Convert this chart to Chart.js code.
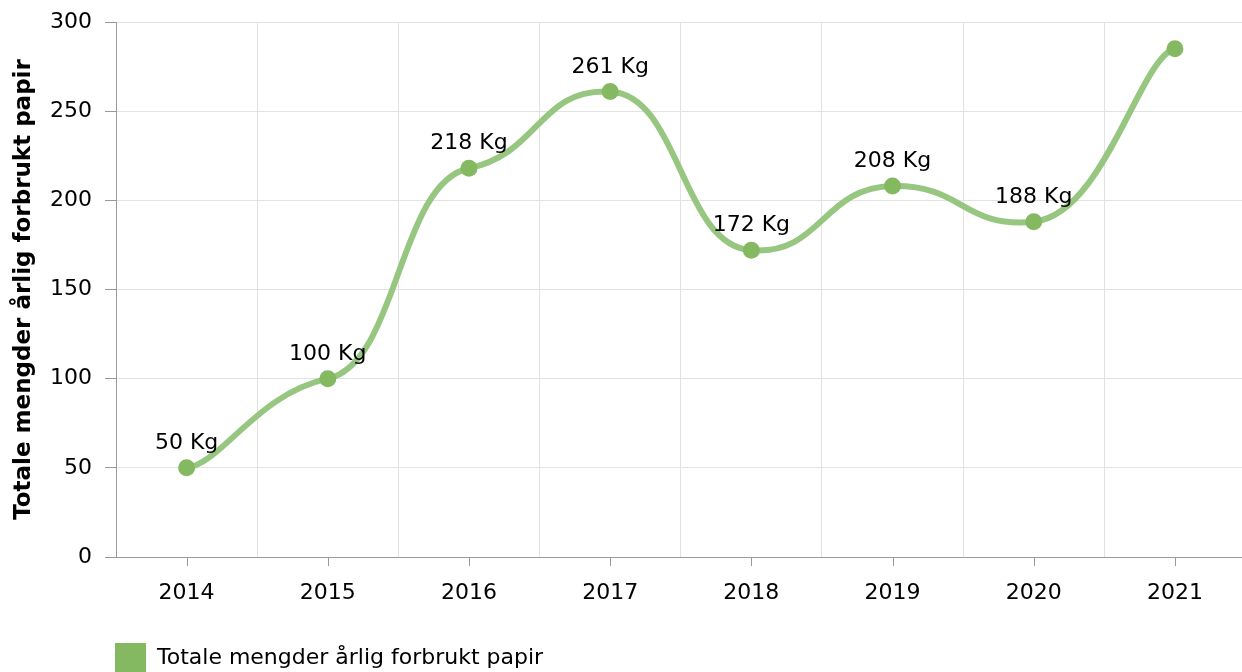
<!DOCTYPE html>
<html>
<head>
<meta charset="utf-8">
<script src="https://cdn.jsdelivr.net/npm/chart.js@4/dist/chart.umd.min.js"></script>
<style>
html, body { margin: 0; padding: 0; background: #fff; overflow: hidden; }
#wrap { position: absolute; left: 0; top: 0; width: 1242px; height: 672px; overflow: hidden; }
#c { position: absolute; left: 0; top: 0; }
</style>
</head>
<body>
<div id="wrap"><canvas id="c" width="1254" height="680"></canvas></div>
<script>
const categories = ["2014", "2015", "2016", "2017", "2018", "2019", "2020", "2021"];
const values = [50, 100, 218, 261, 172, 208, 188, 285];
const pointLabels = ["50 Kg", "100 Kg", "218 Kg", "261 Kg", "172 Kg", "208 Kg", "188 Kg", ""];
const yTicks = [0, 50, 100, 150, 200, 250, 300];
const seriesName = "Totale mengder årlig forbrukt papir";
const axisTitle = "Totale mengder årlig forbrukt papir";

Chart.defaults.font.family = "'DejaVu Sans', Verdana, sans-serif";
Chart.defaults.color = "#000";

const lineColor = "#97c680";
const pointColor = "#84b962";
const gridColor = "#e2e2e2";
const axisColor = "#9a9a9a";

// smoothing: wide horizontal handles, short vertical handles
const smoothX = 4, smoothY = 20;
const smoothing = {
  id: "smoothing",
  beforeDatasetsDraw(chart) {
    const meta = chart.getDatasetMeta(0);
    const line = meta.dataset;
    line.updateControlPoints(chart.chartArea, "x");
    const pts = meta.data;
    for (let i = 0; i < pts.length; i++) {
      const p = pts[i];
      const prev = pts[i - 1] || p;
      const next = pts[i + 1] || p;
      const dx = next.x - prev.x, dy = next.y - prev.y;
      p.cp1x = p.x - dx / smoothX; p.cp1y = p.y - dy / smoothY;
      p.cp2x = p.x + dx / smoothX; p.cp2y = p.y + dy / smoothY;
    }
    delete line._path;
  }
};

const dataLabelPlugin = {
  id: "dataLabels",
  afterDatasetsDraw(chart) {
    const meta = chart.getDatasetMeta(0);
    const ctx = chart.ctx;
    ctx.save();
    ctx.font = "22px 'DejaVu Sans', Verdana, sans-serif";
    ctx.fillStyle = "#000";
    ctx.textAlign = "center";
    ctx.textBaseline = "alphabetic";
    meta.data.forEach((el, i) => {
      const t = pointLabels[i];
      if (t) ctx.fillText(t, el.x, el.y - 19);
    });
    ctx.restore();
  }
};

const xTickMarks = {
  id: "xTickMarks",
  afterDraw(chart) {
    const x = chart.scales.x;
    const ctx = chart.ctx;
    const b = chart.chartArea.bottom;
    ctx.save();
    ctx.strokeStyle = axisColor;
    ctx.lineWidth = 1;
    ctx.beginPath();
    for (let i = 0; i < categories.length; i++) {
      const px = Math.round(x.getPixelForTick(i)) + 0.5;
      ctx.moveTo(px, b);
      ctx.lineTo(px, b + 9);
    }
    ctx.stroke();
    ctx.restore();
  }
};

const legendMover = {
  id: "legendMover",
  afterLayout(chart) {
    const lg = chart.legend;
    if (lg) {
      lg.left = 105;
      lg.right = lg.left + lg.width;
      lg.top = 633;
      lg.bottom = lg.top + lg.height;
    }
  }
};

new Chart(document.getElementById("c"), {
  type: "line",
  data: {
    labels: categories,
    datasets: [{
      label: seriesName,
      data: values,
      borderColor: lineColor,
      backgroundColor: pointColor,
      borderWidth: 6,
      tension: 0.4,
      pointRadius: 8.5,
      pointHoverRadius: 8.5,
      pointBackgroundColor: pointColor,
      pointBorderWidth: 0,
      fill: false
    }]
  },
  options: {
    responsive: false,
    animation: false,
    events: [],
    layout: { padding: { top: 22, left: 0, right: 0, bottom: 22 } },
    plugins: {
      tooltip: { enabled: false },
      legend: {
        display: true,
        position: "bottom",
        align: "start",
        labels: {
          boxWidth: 31,
          boxHeight: 31,
          padding: 10,
          color: "#000",
          font: { size: 22 },
          generateLabels: () => [{
            text: seriesName,
            fillStyle: pointColor,
            strokeStyle: pointColor,
            lineWidth: 0,
            hidden: false,
            datasetIndex: 0
          }]
        }
      }
    },
    scales: {
      x: {
        type: "category",
        offset: true,
        afterFit: s => { s.height = 50; s.paddingLeft = 0; s.paddingRight = 0; },
        grid: { offset: true, color: gridColor, lineWidth: 1, drawTicks: false },
        border: { color: axisColor, width: 1 },
        ticks: { font: { size: 22 }, color: "#000", padding: 23, maxRotation: 0, autoSkip: false }
      },
      y: {
        min: 0,
        max: 300,
        afterFit: s => { s.width = 116; s.paddingTop = 0; s.paddingBottom = 0; },
        afterBuildTicks: s => { s.ticks = yTicks.map(v => ({ value: v })); },
        grid: { color: gridColor, lineWidth: 1, tickColor: axisColor, tickLength: 11, drawTicks: true },
        border: { color: axisColor, width: 1 },
        ticks: { font: { size: 22 }, color: "#000", padding: 13 },
        title: {
          display: true,
          text: axisTitle,
          color: "#000",
          font: { size: 23, weight: "bold" },
          padding: { top: 10, bottom: 0 }
        }
      }
    }
  },
  plugins: [smoothing, dataLabelPlugin, xTickMarks, legendMover]
});
</script>
</body>
</html>
